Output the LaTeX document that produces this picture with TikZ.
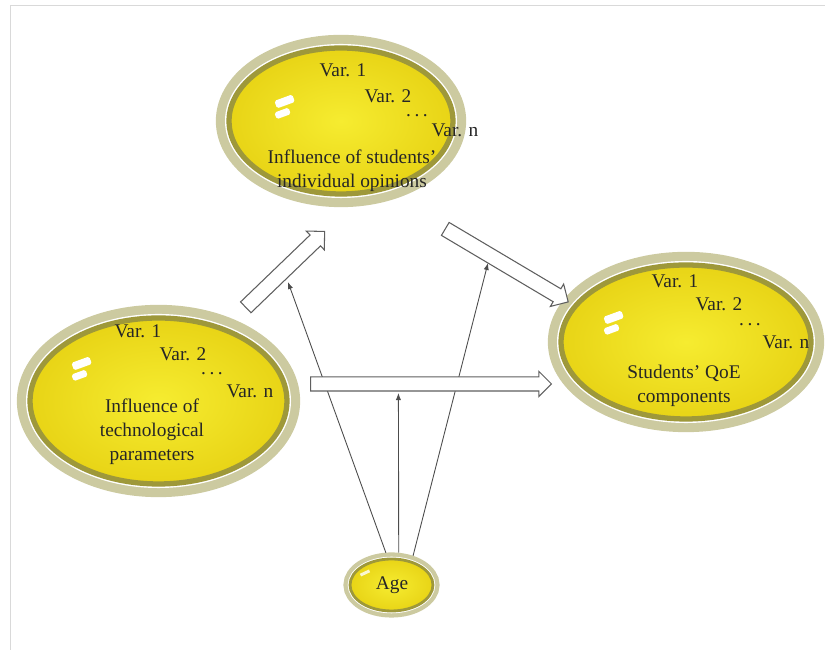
\documentclass[tikz,border=0pt]{standalone}
\usepackage{fontspec}
\setmainfont{Liberation Serif}
\usetikzlibrary{shapes.geometric,shapes.arrows,arrows.meta}

\definecolor{rimlight}{RGB}{204,202,160}
\definecolor{rimolive}{RGB}{158,152,58}
\definecolor{yolkin}{RGB}{246,236,48}
\definecolor{yolkout}{RGB}{232,212,22}
\definecolor{arrowline}{RGB}{95,95,95}

\def\ll{0.02}

% one white glint on a bubble
\newcommand\glint[2]{%
  \begin{scope}[shift={(#1*\ll,#2*\ll)},rotate=20]
    \fill[white,rounded corners=1pt] (-7*\ll, 1*\ll) rectangle (12*\ll, 9*\ll);
    \fill[white,rounded corners=1pt] (-11*\ll,-9*\ll) rectangle (4*\ll,-2*\ll);
  \end{scope}}

\begin{document}
\begin{tikzpicture}[
  bubble/.style={ellipse,inner sep=0pt,
    preaction={draw=rimlight,line width=15pt},
    preaction={draw=white,line width=4.6pt},
    draw=rimolive,line width=3pt,inner color=yolkin,outer color=yolkout},
  agebubble/.style={ellipse,inner sep=0pt,
    preaction={draw=rimlight,line width=7.5pt},
    preaction={draw=white,line width=2.6pt},
    draw=rimolive,line width=1.6pt,inner color=yolkin,outer color=yolkout},
  vartext/.style={font=\fontsize{11}{13.8}\selectfont,text=black!85,inner sep=0pt},
  labeltext/.style={vartext,align=center},
  blockarrow/.style={single arrow,draw=arrowline,fill=white,line width=0.6pt,
    inner sep=0.14cm,single arrow head extend=0.11cm},
  thinarrow/.style={draw=black!70,line width=0.5pt,shorten <=3pt,
    -{Latex[length=4pt,width=3pt]}}]

\useasboundingbox (0,0) rectangle (825*\ll,650*\ll);
\draw[black!15] (10*\ll,0) -- (10*\ll,645*\ll) -- (825*\ll,645*\ll);

% the four bubbles
\node[bubble,minimum width=4.48cm,minimum height=2.92cm] (opinions) at (341*\ll,529*\ll) {};
\node[bubble,minimum width=5.14cm,minimum height=3.32cm] (techno)   at (158.5*\ll,249*\ll) {};
\node[bubble,minimum width=5.00cm,minimum height=3.08cm] (qoe)      at (686*\ll,308*\ll) {};
\node[agebubble,minimum width=1.66cm,minimum height=1.04cm] (age)   at (391.5*\ll,65*\ll) {};

\glint{284}{543}
\glint{81}{281}
\glint{613}{327}
\fill[white,opacity=0.8,rotate around={25:(365*\ll,77*\ll)}] (360*\ll,75.5*\ll) rectangle (370*\ll,78.5*\ll);

% texts
\node[vartext] (op1) at (343*\ll,580*\ll) {Var. 1};
\node[vartext] (op2) at (388*\ll,554*\ll) {Var. 2};
\node[vartext] (opd) at (417*\ll,534*\ll) {.\hspace{2pt}.\hspace{2pt}.};
\node[vartext] (opn) at (455*\ll,520*\ll) {Var. n};
\node[labeltext] (oplabel) at (352*\ll,479*\ll) {Influence of students'\\individual opinions};

\node[vartext] (te1) at (138*\ll,319*\ll) {Var. 1};
\node[vartext] (te2) at (183*\ll,296*\ll) {Var. 2};
\node[vartext] (ted) at (212*\ll,276*\ll) {.\hspace{2pt}.\hspace{2pt}.};
\node[vartext] (ten) at (250*\ll,259*\ll) {Var. n};
\node[labeltext] (telabel) at (152*\ll,218*\ll) {Influence of\\technological\\parameters};

\node[vartext] (qo1) at (675*\ll,369*\ll) {Var. 1};
\node[vartext] (qo2) at (719*\ll,346*\ll) {Var. 2};
\node[vartext] (qod) at (750*\ll,325*\ll) {.\hspace{2pt}.\hspace{2pt}.};
\node[vartext] (qon) at (786*\ll,308*\ll) {Var. n};
\node[labeltext] (qolabel) at (684*\ll,264*\ll) {Students' QoE\\components};

\node[vartext] (agelabel) at (392*\ll,65*\ll) {Age};

% age acts on the three links
\coordinate (m1) at (288*\ll,368*\ll);
\coordinate (m2) at (488*\ll,387*\ll);
\coordinate (m3) at (398.4*\ll,257*\ll);
\draw[thinarrow] (age.98) -- (m1);
\draw[thinarrow] (age.75) -- (m3);
\draw[thinarrow] (age.50) -- (m2);

% block arrows
\node[blockarrow,minimum height=2.19cm,rotate=43.9] (techtoop) at (282.5*\ll,378*\ll) {};
\node[blockarrow,minimum height=2.86cm,rotate=-30.7] (optoqoe) at (503.5*\ll,386.5*\ll) {};
\node[blockarrow,minimum height=4.82cm,inner sep=0.13cm] (techtoqoe) at (427.5*\ll,266*\ll) {};
\end{tikzpicture}
\end{document}
